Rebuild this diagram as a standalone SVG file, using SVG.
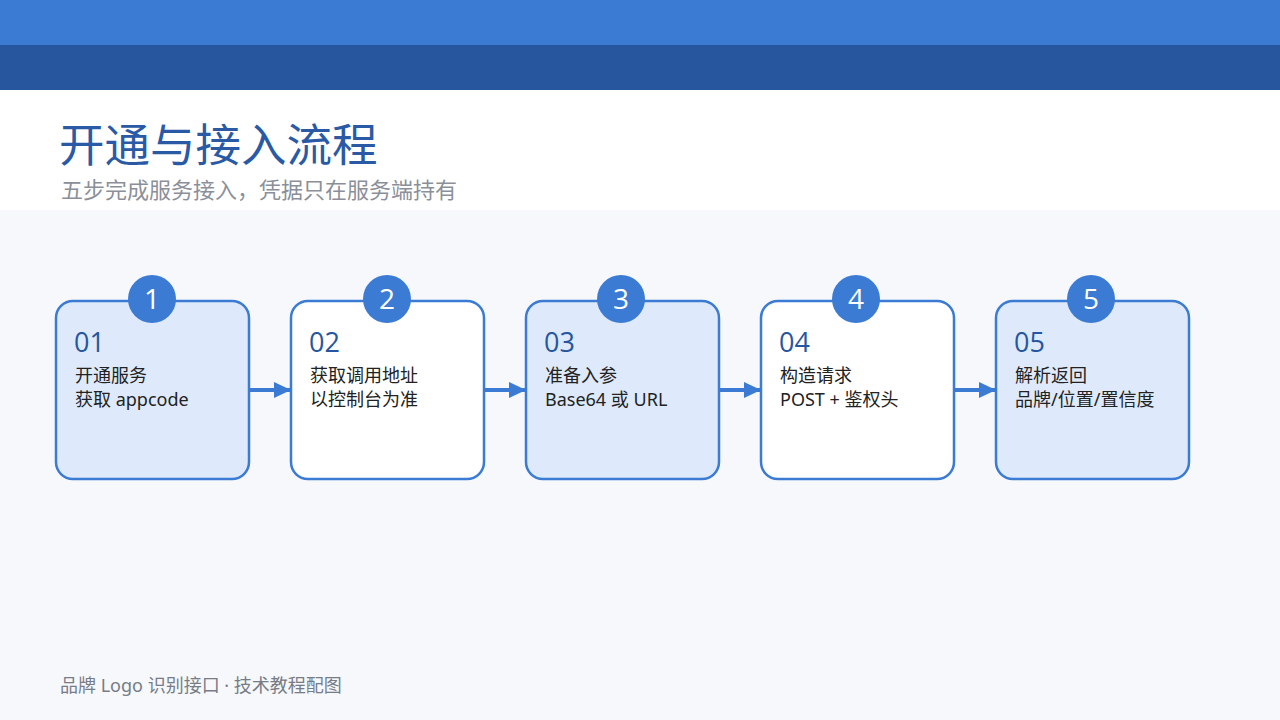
<svg xmlns="http://www.w3.org/2000/svg" width="1280" height="720" viewBox="0 0 1280 720">
<defs>
<style>
.box{stroke:#3b7bd4;stroke-width:2.5}
.alt{fill:#deeafb}
.plain{fill:#ffffff}
.badge{fill:#3b7bd4}
.bnum{font-family:"Open Sans","Liberation Sans",sans-serif;font-size:28px;fill:#ffffff;text-anchor:middle}
.num{font-family:"Open Sans","Liberation Sans",sans-serif;font-size:27px;fill:#2756a0}
.txt{font-family:"Noto Sans","Noto Sans CJK SC",sans-serif;font-size:18px;fill:#222222}
.conn{stroke:#3b7bd4;stroke-width:4;fill:none}
</style>
<marker id="arr" markerWidth="17" markerHeight="16" refX="16" refY="8" orient="auto" markerUnits="userSpaceOnUse">
<path d="M0,0 L17,8 L0,16 Z" fill="#3b7bd4"/>
</marker>
</defs>
<rect x="0" y="0" width="1280" height="720" fill="#ffffff"/>
<rect x="0" y="0" width="1280" height="45" fill="#3b7bd4"/>
<rect x="0" y="45" width="1280" height="45" fill="#27569f"/>
<rect x="0" y="210" width="1280" height="510" fill="#f6f8fc"/>
<text x="59" y="162" font-family="Noto Sans CJK SC,sans-serif" font-size="45.5" fill="#2a5aa5">开通与接入流程</text>
<text x="61" y="198" font-family="Noto Sans CJK SC,sans-serif" font-size="22" fill="#8a8f99">五步完成服务接入，凭据只在服务端持有</text>
<g id="connectors">
<line class="conn" x1="250" y1="390" x2="290" y2="390" marker-end="url(#arr)"/>
<line class="conn" x1="485" y1="390" x2="525" y2="390" marker-end="url(#arr)"/>
<line class="conn" x1="720" y1="390" x2="760" y2="390" marker-end="url(#arr)"/>
<line class="conn" x1="955" y1="390" x2="995" y2="390" marker-end="url(#arr)"/>
</g>
<g id="node1">
<rect class="box alt" x="56" y="301" width="193" height="178" rx="17"/>
<circle class="badge" cx="152" cy="299" r="24"/>
<text class="bnum" x="152" y="309">1</text>
<text class="num" x="74" y="352">01</text>
<text class="txt" x="75" y="382">开通服务</text>
<text class="txt" x="75" y="406">获取 appcode</text>
</g>
<g id="node2">
<rect class="box plain" x="291" y="301" width="193" height="178" rx="17"/>
<circle class="badge" cx="387" cy="299" r="24"/>
<text class="bnum" x="387" y="309">2</text>
<text class="num" x="309" y="352">02</text>
<text class="txt" x="310" y="382">获取调用地址</text>
<text class="txt" x="310" y="406">以控制台为准</text>
</g>
<g id="node3">
<rect class="box alt" x="526" y="301" width="193" height="178" rx="17"/>
<circle class="badge" cx="621" cy="299" r="24"/>
<text class="bnum" x="621" y="309">3</text>
<text class="num" x="544" y="352">03</text>
<text class="txt" x="545" y="382">准备入参</text>
<text class="txt" x="545" y="406">Base64 或 URL</text>
</g>
<g id="node4">
<rect class="box plain" x="761" y="301" width="193" height="178" rx="17"/>
<circle class="badge" cx="856" cy="299" r="24"/>
<text class="bnum" x="856" y="309">4</text>
<text class="num" x="779" y="352">04</text>
<text class="txt" x="780" y="382">构造请求</text>
<text class="txt" x="780" y="406">POST + 鉴权头</text>
</g>
<g id="node5">
<rect class="box alt" x="996" y="301" width="193" height="178" rx="17"/>
<circle class="badge" cx="1091" cy="299" r="24"/>
<text class="bnum" x="1091" y="309">5</text>
<text class="num" x="1014" y="352">05</text>
<text class="txt" x="1015" y="382">解析返回</text>
<text class="txt" x="1015" y="406">品牌/位置/置信度</text>
</g>
<text x="60" y="692" font-family="Noto Sans,Noto Sans CJK SC,sans-serif" font-size="18" fill="#777c86">品牌 Logo 识别接口 · 技术教程配图</text>
</svg>
